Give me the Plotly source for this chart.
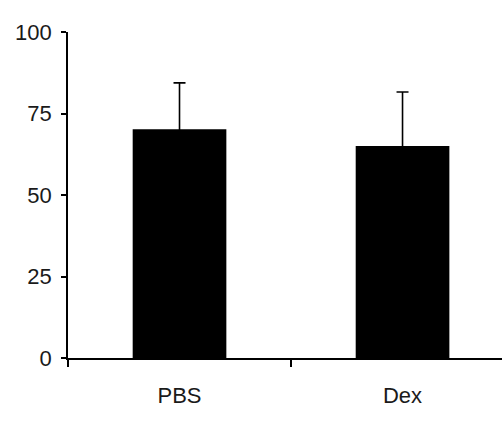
import plotly.graph_objects as go

categories = ["PBS", "Dex"]
values = [70.2, 65.0]
errors = [14.2, 16.6]
y_ticks = [0, 25, 50, 75, 100]

fig = go.Figure()
fig.add_trace(go.Bar(
    x=categories,
    y=values,
    width=0.42,
    marker=dict(color="black", line=dict(width=0)),
    error_y=dict(type="data", symmetric=True, array=errors,
                 color="black", thickness=1.6, width=6),
    showlegend=False,
    hoverinfo="skip",
))

fig.update_layout(
    width=502, height=428,
    margin=dict(l=68, r=0, t=32, b=70),
    paper_bgcolor="white", plot_bgcolor="white",
    font=dict(family="Liberation Sans, Arial, sans-serif", size=22, color="#1a1a1a"),
)
fig.update_xaxes(
    type="category",
    range=[-0.5, 1.446],
    showline=True, linecolor="black", linewidth=1.6,
    ticks="outside", tickson="boundaries", ticklen=7, tickcolor="black", tickwidth=1.6,
    showgrid=False, zeroline=False,
    ticklabelstandoff=17,
)
fig.update_yaxes(
    range=[0, 100],
    tickvals=y_ticks,
    showline=True, linecolor="black", linewidth=1.6,
    ticks="outside", ticklen=5, tickcolor="black", tickwidth=1.6,
    showgrid=False, zeroline=False,
    ticklabelstandoff=5,
)

fig.write_html(
    "out.html",
    config={"displayModeBar": False},
    post_script="document.body.style.margin='0';document.body.style.overflow='hidden';",
)
